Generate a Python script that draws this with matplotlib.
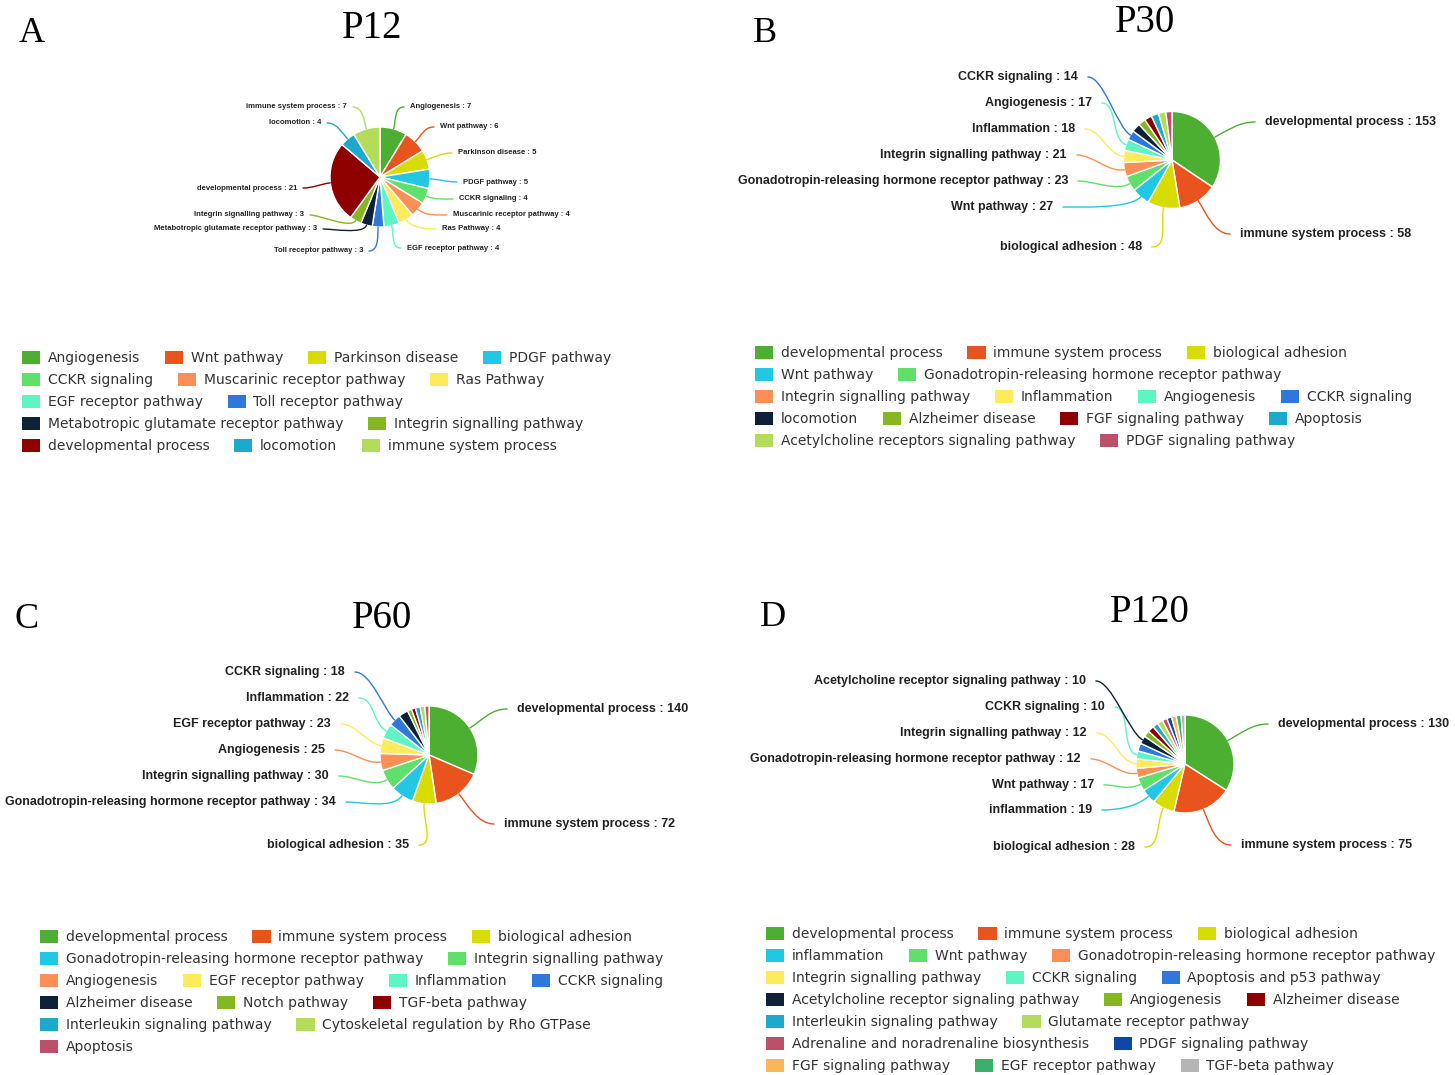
import matplotlib
matplotlib.use("Agg")
import matplotlib.pyplot as plt
from matplotlib.patches import Patch, PathPatch
from matplotlib.path import Path
import numpy as np

# ---------------- data ----------------
PALETTE = ['#4CAF32', '#E8531E', '#D9DC00', '#22C7E3', '#5FE06A', '#FB8F55',
           '#FDEB5C', '#5FF5C3', '#2F78DB', '#0D2239', '#85B820', '#8E0000',
           '#1BAACD', '#B4DC5A', '#BB5068', '#0F47A6', '#FBB55A', '#3CAF66',
           '#B5B5B5']

A_categories = ['Angiogenesis', 'Wnt pathway', 'Parkinson disease', 'PDGF pathway',
                'CCKR signaling', 'Muscarinic receptor pathway', 'Ras Pathway',
                'EGF receptor pathway', 'Toll receptor pathway',
                'Metabotropic glutamate receptor pathway', 'Integrin signalling pathway',
                'developmental process', 'locomotion', 'immune system process']
A_values = [7, 6, 5, 5, 4, 4, 4, 4, 3, 3, 3, 21, 4, 7]

B_categories = ['developmental process', 'immune system process', 'biological adhesion',
                'Wnt pathway', 'Gonadotropin-releasing hormone receptor pathway',
                'Integrin signalling pathway', 'Inflammation', 'Angiogenesis',
                'CCKR signaling', 'locomotion', 'Alzheimer disease',
                'FGF signaling pathway', 'Apoptosis',
                'Acetylcholine receptors signaling pathway', 'PDGF signaling pathway']
B_values = [153, 58, 48, 27, 23, 21, 18, 17, 14, 13, 11, 11, 11, 11, 9]

C_categories = ['developmental process', 'immune system process', 'biological adhesion',
                'Gonadotropin-releasing hormone receptor pathway',
                'Integrin signalling pathway', 'Angiogenesis', 'EGF receptor pathway',
                'Inflammation', 'CCKR signaling', 'Alzheimer disease', 'Notch pathway',
                'TGF-beta pathway', 'Interleukin signaling pathway',
                'Cytoskeletal regulation by Rho GTPase', 'Apoptosis']
C_values = [140, 72, 35, 34, 30, 25, 23, 22, 18, 14, 6, 6, 7, 7, 6]

D_categories = ['developmental process', 'immune system process', 'biological adhesion',
                'inflammation', 'Wnt pathway',
                'Gonadotropin-releasing hormone receptor pathway',
                'Integrin signalling pathway', 'CCKR signaling', 'Apoptosis and p53 pathway',
                'Acetylcholine receptor signaling pathway', 'Angiogenesis',
                'Alzheimer disease', 'Interleukin signaling pathway',
                'Glutamate receptor pathway', 'Adrenaline and noradrenaline biosynthesis',
                'PDGF signaling pathway', 'FGF signaling pathway', 'EGF receptor pathway',
                'TGF-beta pathway']
D_values = [130, 75, 28, 19, 17, 12, 12, 10, 10, 10, 8, 8, 7, 7, 6, 6, 6, 6, 5]

# ---------------- layout (pixels) ----------------
W, H = 1455, 1075
PANELS = [
    dict(letter='A', title='P12', cats=A_categories, vals=A_values,
         center=(380, 177), r=50, letter_xy=(32, 33), title_xy=(372, 28), label_fs=5.5,
         labels=[(0, 410, 107), (1, 440, 127), (2, 458, 153), (3, 463, 182),
                 (4, 459, 199), (5, 453, 215), (6, 442, 229), (7, 407, 248),
                 (8, 363, 251), (9, 317, 229), (10, 304, 215), (11, 297, 188),
                 (12, 321, 123), (13, 347, 107)],
         legend_x=22, legend_y0=358, legend_rows=[4, 3, 2, 2, 3]),
    dict(letter='B', title='P30', cats=B_categories, vals=B_values,
         center=(1172, 160), r=48.5, letter_xy=(765, 33), title_xy=(1145, 23), label_fs=9.0,
         labels=[(0, 1265, 122), (1, 1240, 234), (2, 1142, 247), (3, 1053, 207),
                 (4, 1068, 181), (5, 1067, 155), (6, 1075, 129), (7, 1092, 103),
                 (8, 1078, 77)],
         legend_x=755, legend_y0=353, legend_rows=[3, 2, 4, 4, 2]),
    dict(letter='C', title='P60', cats=C_categories, vals=C_values,
         center=(429, 755), r=49, letter_xy=(27, 620), title_xy=(382, 618), label_fs=9.0,
         labels=[(0, 517, 709), (1, 504, 824), (2, 409, 845), (3, 336, 802),
                 (4, 329, 776), (5, 325, 750), (6, 331, 724), (7, 349, 698),
                 (8, 345, 672)],
         legend_x=40, legend_y0=937, legend_rows=[3, 2, 4, 3, 2, 1]),
    dict(letter='D', title='P120', cats=D_categories, vals=D_values,
         center=(1185, 764), r=49, letter_xy=(773, 618), title_xy=(1150, 613), label_fs=9.0,
         labels=[(0, 1278, 724), (1, 1241, 845), (2, 1135, 847), (3, 1092, 810),
                 (4, 1094, 785), (5, 1081, 759), (6, 1087, 733), (7, 1105, 707),
                 (9, 1086, 681)],
         legend_x=766, legend_y0=934, legend_rows=[3, 3, 3, 3, 2, 2, 3]),
]
ROW_H = 22
LEG_FS = 10
TXT = '#222222'

fig = plt.figure(figsize=(W / 100, H / 100), dpi=100)
ax = fig.add_axes([0, 0, 1, 1])


def fy(y):
    return H - y


for p in PANELS:
    cats, vals = p['cats'], p['vals']
    colors = PALETTE[:len(vals)]
    cx, cy = p['center'][0], fy(p['center'][1])
    r = p['r']
    wedges, _ = ax.pie(vals, colors=colors, startangle=90, counterclock=False,
                       center=(cx, cy), radius=r,
                       wedgeprops=dict(edgecolor='white', linewidth=1.0))
    # data labels with connectors
    fs = p['label_fs']
    gap = fs * 1.1
    for idx, lx, ly in p['labels']:
        w = wedges[idx]
        mid = np.deg2rad((w.theta1 + w.theta2) / 2)
        ex, ey = cx + r * np.cos(mid), cy + r * np.sin(mid)
        right = lx > p['center'][0]
        ly_d = fy(ly)
        sx = lx - gap if right else lx + gap
        sdir = -1 if right else 1
        c1 = (sx + sdir * gap * 1.6, ly_d)
        c2 = (cx + (r + gap * 1.6) * np.cos(mid), cy + (r + gap * 1.6) * np.sin(mid))
        path = Path([(sx, ly_d), c1, c2, (ex, ey)],
                    [Path.MOVETO, Path.CURVE4, Path.CURVE4, Path.CURVE4])
        ax.add_patch(PathPatch(path, fill=False, edgecolor=colors[idx], lw=1.0,
                               capstyle='round'))
        ax.text(lx, ly_d, f'{cats[idx]} : {vals[idx]}', fontsize=fs,
                fontweight='bold', family='Liberation Sans', color=TXT,
                ha='left' if right else 'right', va='center')
    # panel letter and title
    ax.text(p['letter_xy'][0], fy(p['letter_xy'][1]), p['letter'], fontsize=26,
            family='Liberation Serif', ha='center', va='center', color='black')
    ax.text(p['title_xy'][0], fy(p['title_xy'][1]), p['title'], fontsize=28,
            family='Liberation Serif', ha='center', va='center', color='black')
    # legend, one flowing row at a time
    start = 0
    for k, n in enumerate(p['legend_rows']):
        idxs = list(range(start, start + n))
        start += n
        handles = [Patch(facecolor=colors[i], edgecolor='none') for i in idxs]
        labels = [cats[i] for i in idxs]
        yrow = p['legend_y0'] + k * ROW_H
        fig.legend(handles, labels, ncol=n, loc='center left',
                   bbox_to_anchor=(p['legend_x'] / W, 1 - yrow / H),
                   frameon=False, labelcolor='#333333',
                   handlelength=1.3, handleheight=1.05, handletextpad=0.55,
                   columnspacing=1.8, borderpad=0, borderaxespad=0,
                   prop={'family': 'DejaVu Sans', 'size': LEG_FS})

ax.set_xlim(0, W)
ax.set_ylim(0, H)
ax.set_aspect('equal')
ax.axis('off')
fig.savefig('out.png', dpi=100, facecolor='white')
